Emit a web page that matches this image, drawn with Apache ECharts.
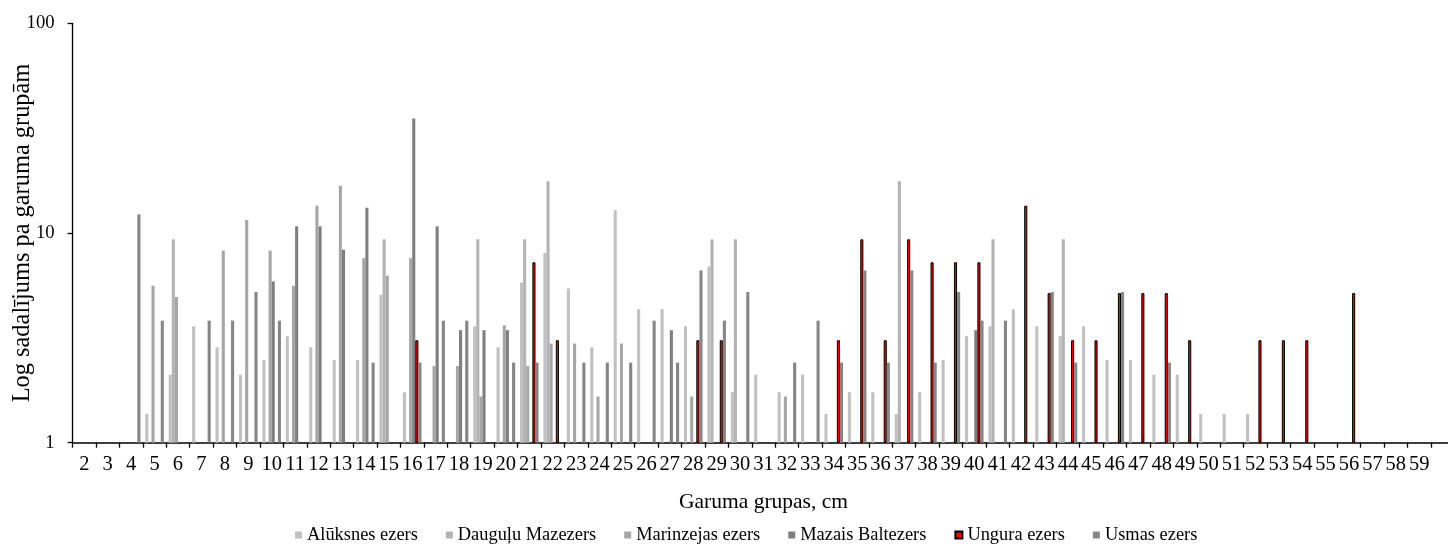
<!DOCTYPE html>
<html>
<head>
<meta charset="utf-8">
<script src="https://cdn.jsdelivr.net/npm/echarts@6/dist/echarts.min.js"></script>
<style>
html, body { margin: 0; padding: 0; background: #ffffff; }
#chart { width: 1448px; height: 544px; }
</style>
</head>
<body>
<div id="chart"></div>
<script>
// Length groups, cm (last slot is an empty category at the cut-off right edge)
const categories = ['2','3','4','5','6','7','8','9','10','11',
  '12','13','14','15','16','17','18','19','20','21',
  '22','23','24','25','26','27','28','29','30','31',
  '32','33','34','35','36','37','38','39','40','41',
  '42','43','44','45','46','47','48','49','50','51',
  '52','53','54','55','56','57','58','59',''];

const seriesNames = ['Alūksnes ezers','Dauguļu Mazezers','Marinzejas ezers','Mazais Baltezers','Ungura ezers','Usmas ezers'];

const aluksnes = [null, null, null, 1.37, 2.11, 3.59, 2.85, 2.11, 2.48, 3.22,
  2.85, 2.48, 2.48, 5.07, 1.74, null, null, 3.59, 2.85, 5.81,
  8.04, 5.44, 2.85, 12.85, 4.33, 4.33, 3.59, 6.93, 1.74, 2.11,
  1.74, 2.11, 1.37, 1.74, 1.74, 1.37, 1.74, 2.48, 3.22, 3.59,
  4.33, 3.59, 3.22, 3.59, 2.48, 2.48, 2.11, 2.11, 1.37, 1.37,
  1.37, null, null, null, null, null, null, null, null];

const daugulu = [null, null, null, null, 9.33, null, null, null, null, null,
  null, null, null, 9.33, null, null, null, 9.33, null, 9.33,
  17.67, null, null, null, null, null, null, 9.33, 9.33, null,
  null, null, null, null, null, 17.67, null, null, null, 9.33,
  null, null, 9.33, null, null, null, null, null, null, null,
  null, null, null, null, null, null, null, null, null];

const marinzejas = [null, null, null, 5.61, 4.95, null, 8.24, 11.53, 8.24, 5.61,
  13.5, 16.79, 7.58, 6.26, 7.58, 2.32, 2.32, 1.66, 3.63, 2.32,
  2.97, 2.97, 1.66, 2.97, null, null, 1.66, null, null, null,
  1.66, null, null, null, null, null, null, null, null, null,
  null, null, null, null, null, null, null, null, null, null,
  null, null, null, null, null, null, null, null, null];

const mazaisBaltezers = [null, null, null, null, null, null, null, null, 5.88, 10.76,
  10.76, 8.32, 13.2, null, 35.15, 10.76, 3.44, 3.44, 3.44, null,
  null, null, null, null, null, 3.44, null, null, null, null,
  null, null, null, null, null, null, null, null, 3.44, null,
  null, null, null, null, null, null, null, null, null, null,
  null, null, null, null, null, null, null, null, null];

const ungura = [null, null, null, null, null, null, null, null, null, null,
  null, null, null, null, 3.08, null, null, null, null, 7.25,
  3.08, null, null, null, null, null, 3.08, 3.08, null, null,
  null, null, 3.08, 9.33, 3.08, 9.33, 7.25, 7.25, 7.25, null,
  13.5, 5.17, 3.08, 3.08, 5.17, 5.17, 5.17, 3.08, null, null,
  3.08, 3.08, 3.08, null, 5.17, null, null, null, null];

const usmas = [null, null, 12.27, 3.82, null, 3.82, 3.82, 5.23, 3.82, null,
  null, null, 2.41, null, 2.41, 3.82, 3.82, null, 2.41, 2.41,
  null, 2.41, 2.41, 2.41, 3.82, 2.41, 6.63, 3.82, 5.23, null,
  2.41, 3.82, 2.41, 6.63, 2.41, 6.63, 2.41, 5.23, 3.82, 3.82,
  null, 5.23, 2.41, null, 5.23, null, 2.41, null, null, null,
  null, null, null, null, null, null, null, null, null];

const FONT = "'Liberation Serif', 'Times New Roman', serif";

const seriesData = [aluksnes, daugulu, marinzejas, mazaisBaltezers, ungura, usmas];
const seriesStyles = [
  { color: '#c1c1c1' },
  { color: '#b3b3b3' },
  { color: '#a6a6a6' },
  { color: '#7f7f7f' },
  { color: '#ff0000', borderColor: '#000000', borderWidth: 1 },
  { color: '#868686' }
];

const chart = echarts.init(document.getElementById('chart'), null, { renderer: 'canvas' });
chart.setOption({
  animation: false,
  backgroundColor: '#ffffff',
  textStyle: { fontFamily: FONT, color: '#000' },
  grid: {
    left: 72.6, top: 23.3, width: 59 * 23.42, height: 419.4,
    containLabel: false, outerBoundsMode: 'none'
  },
  legend: {
    data: seriesNames,
    left: 295, top: 526, padding: 0,
    itemWidth: 7, itemHeight: 7, itemGap: 28,
    icon: 'rect',
    textStyle: { fontFamily: FONT, fontSize: 18.4, color: '#000', padding: [0, 0, 0, 0] }
  },
  xAxis: {
    type: 'category',
    data: categories,
    boundaryGap: true,
    name: 'Garuma grupas, cm',
    nameLocation: 'middle',
    nameGap: 49,
    nameMoveOverlap: false,
    nameTextStyle: { fontFamily: FONT, fontSize: 21.5, color: '#000' },
    axisLine: { show: true, lineStyle: { color: '#000', width: 1.6 } },
    axisTick: { show: true, alignWithLabel: false, interval: 0, length: 5, lineStyle: { color: '#000', width: 1.3 } },
    axisLabel: { interval: 0, margin: 11, fontFamily: FONT, fontSize: 20.5, color: '#000', hideOverlap: false },
    splitLine: { show: false }
  },
  yAxis: {
    type: 'log',
    logBase: 10,
    min: 1,
    max: 100,
    name: 'Log sadalījums pa garuma grupām',
    nameLocation: 'middle',
    nameGap: 38,
    nameRotate: 90,
    nameMoveOverlap: false,
    nameTextStyle: { fontFamily: FONT, fontSize: 24.4, color: '#000' },
    axisLine: { show: true, lineStyle: { color: '#000', width: 1.3 } },
    axisTick: { show: true, length: 5, lineStyle: { color: '#000', width: 1.3 } },
    axisLabel: { margin: 18, fontFamily: FONT, fontSize: 18.7, color: '#000' },
    splitLine: { show: false },
    minorTick: { show: false },
    minorSplitLine: { show: false }
  },
  series: seriesNames.map((name, k) => ({
    name: name,
    type: 'bar',
    data: seriesData[k],
    barWidth: 3.1,
    barGap: '0%',
    itemStyle: Object.assign({ borderWidth: 0 }, seriesStyles[k]),
    emphasis: { disabled: true }
  }))
});
</script>
</body>
</html>
